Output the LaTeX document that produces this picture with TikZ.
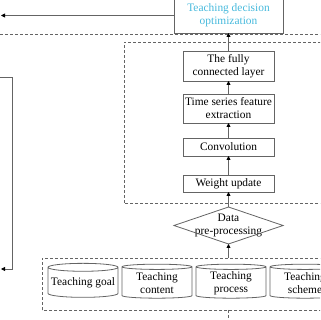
\documentclass[tikz,border=0pt]{standalone}
\usepackage{fontspec}
\setmainfont{Liberation Serif}
\usetikzlibrary{shapes.geometric, arrows.meta, positioning}
\definecolor{tdcyan}{RGB}{70,185,220}
\definecolor{edgegray}{RGB}{100,100,100}

\begin{document}
\begin{tikzpicture}[x=1pt, y=1pt,
        box/.style={draw=edgegray, line width=0.8pt, minimum width=91pt, inner sep=1pt, outer sep=0pt, align=center, font=\fontsize{11.4}{13}\selectfont},
        db/.style={cylinder, shape border rotate=90, aspect=0.12, draw=edgegray, line width=0.8pt, minimum width=70pt, minimum height=34pt, inner sep=1pt, outer sep=0pt, align=center, font=\fontsize{11.4}{13}\selectfont},
        frame/.style={draw=edgegray, line width=0.6pt, dash pattern=on 3pt off 2pt},
        arr/.style={draw=edgegray, line width=0.8pt, -{Triangle[length=4pt, width=4pt, black]}}
    ]
        \clip (0,0) rectangle (320,320);

        \node[box, minimum width=109pt, minimum height=35pt, text=tdcyan] (tdo) at (228.5,304.5) {Teaching decision\\optimization};
        \node[box, minimum height=30pt] (fc) at (228.5,254) {The fully\\connected layer};
        \node[box, minimum height=29pt, below=13pt of fc] (ts) {Time series feature\\extraction};
        \node[box, minimum height=18pt, below=15pt of ts] (conv) {Convolution};
        \node[box, minimum height=17pt, below=19pt of conv] (wu) {Weight update};
        \node[box, draw=none, minimum width=109pt, minimum height=37pt, inner sep=0pt, below=15pt of wu] (dp) {Data\\pre-processing};
        \draw[edgegray, line width=0.8pt] (dp.north) -- (dp.east) -- (dp.south) -- (dp.west) -- cycle;

        \node[db] (goal) at (83,37) {Teaching goal};
        \node[db, right=4pt of goal] (content) {Teaching\\content};
        \node[db, right=4pt of content] (process) {Teaching\\process};
        \node[db, right=4pt of process] (scheme) {Teaching\\scheme};

        % dashed frames
        \draw[frame] (124,117) rectangle (330,278);
        \draw[frame] (42,10) rectangle (330,62);
        \draw[frame] (0,285.5) -- (320,285.5);

        \coordinate (srctop) at (228.5,62);
        \coordinate (srcbot) at (228.5,10);
        \coordinate (down) at (228.5,0);
        \coordinate (outl) at (1,304.5);
        \coordinate (ltop) at (0,243);
        \coordinate (lbot) at (1,51);

        \draw[arr] (srctop) -- (dp.south);
        \draw[arr] (dp.north) -- (wu);
        \draw[arr] (wu) -- (conv);
        \draw[arr] (conv) -- (ts);
        \draw[arr] (ts) -- (fc);
        \draw[arr] (fc) -- (tdo);
        \draw[arr] (tdo.west) -- (outl);
        \draw[arr] (ltop) -- ++(12,0) |- (lbot);
        \draw[frame] (srcbot) -- (down);
    \end{tikzpicture}
\end{document}
